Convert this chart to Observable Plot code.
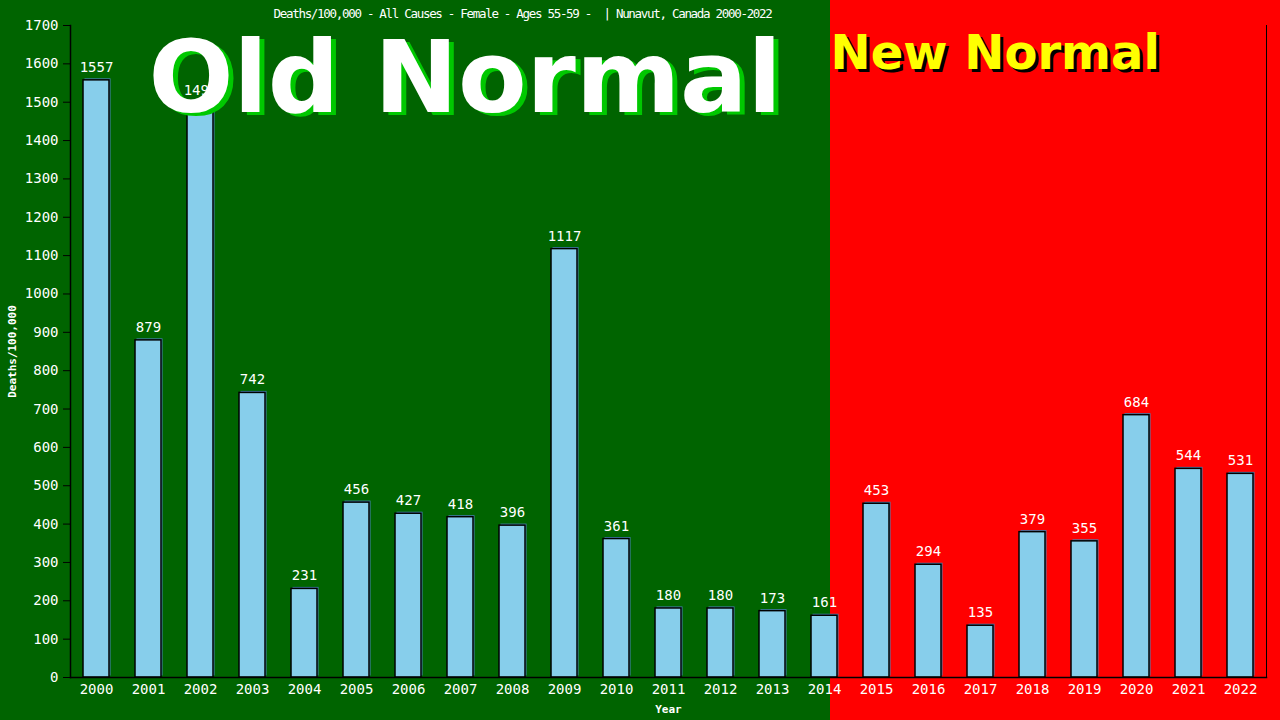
<!DOCTYPE html>
<html><head><meta charset="utf-8">
<script src="https://cdn.jsdelivr.net/npm/d3@7"></script>
<script src="https://cdn.jsdelivr.net/npm/@observablehq/plot@0.6"></script>
<style>
html,body{margin:0;padding:0;width:1280px;height:720px;overflow:hidden;
background:linear-gradient(to right,#006400 0,#006400 830px,#ff0000 830px,#ff0000 100%);}
#chart svg{display:block}
</style></head><body><div id="chart"></div>
<script>
const years = ["2000","2001","2002","2003","2004","2005","2006","2007","2008","2009","2010","2011","2012","2013","2014","2015","2016","2017","2018","2019","2020","2021","2022"];
const values = [1557,879,1497,742,231,456,427,418,396,1117,361,180,180,173,161,453,294,135,379,355,684,544,531];
const yTicks = [0,100,200,300,400,500,600,700,800,900,1000,1100,1200,1300,1400,1500,1600,1700];
const titleText = "Deaths/100,000 - All Causes - Female - Ages 55-59 -  | Nunavut, Canada 2000-2022";
const yLabel = "Deaths/100,000";
const xLabel = "Year";
const oldLabel = "Old Normal";
const newLabel = "New Normal";

const data = years.map((year, i) => ({year, value: values[i]}));
const mono = "'DejaVu Sans Mono', monospace";
const sans = "'DejaVu Sans', sans-serif";

const chart = Plot.plot({
  width: 1280, height: 720,
  marginLeft: 70, marginRight: 14, marginTop: 25, marginBottom: 43,
  style: {background: "transparent", color: "white", fontFamily: mono, fontSize: "14px"},
  x: {domain: years, paddingInner: 0.5, paddingOuter: 0.25, label: null},
  y: {domain: [0, 1700], label: null},
  marks: [
    Plot.barY(data, {x: "year", y: "value", fill: "#4682b4", dx: 1.5, dy: -1.5}),
    Plot.barY(data, {x: "year", y: "value", fill: "#87ceeb", stroke: "black", strokeWidth: 1.5}),
    Plot.axisY({ticks: yTicks, tickFormat: d => String(d), tickSize: 7, tickPadding: 5, stroke: "black", fill: "white", fontSize: 14, label: null}),
    Plot.axisX({tickSize: 0, tickPadding: 7, fill: "white", fontSize: 14, label: null}),
    Plot.frame({anchor: "left", stroke: "black", strokeWidth: 1.5}),
    Plot.frame({anchor: "bottom", stroke: "black", strokeWidth: 1.5}),
    Plot.frame({anchor: "right", stroke: "black"}),
    Plot.text(data, {x: "year", y: "value", text: d => String(d.value), dy: -13, fill: "white", fontSize: 14}),
    Plot.text([oldLabel], {frameAnchor: "top-left", dx: 83, dy: 89, fill: "#00c800", fontSize: 100, fontWeight: "bold", fontFamily: sans, lineAnchor: "bottom", textAnchor: "start"}),
    Plot.text([oldLabel], {frameAnchor: "top-left", dx: 78, dy: 86, fill: "white", fontSize: 100, fontWeight: "bold", fontFamily: sans, lineAnchor: "bottom", textAnchor: "start"}),
    Plot.text([newLabel], {frameAnchor: "top-left", dx: 763, dy: 46, fill: "black", fontSize: 48, fontWeight: "bold", fontFamily: sans, lineAnchor: "bottom", textAnchor: "start"}),
    Plot.text([newLabel], {frameAnchor: "top-left", dx: 760, dy: 43, fill: "#ffff00", fontSize: 48, fontWeight: "bold", fontFamily: sans, lineAnchor: "bottom", textAnchor: "start"}),
    Plot.text([titleText], {frameAnchor: "top-left", dx: 203, dy: -12, fill: "white", fontSize: 12.5, textAnchor: "start", lineAnchor: "middle"}),
    Plot.text([xLabel], {frameAnchor: "bottom", dy: 32, lineAnchor: "middle", fill: "white", fontSize: 11, fontWeight: "bold"}),
    Plot.text([yLabel], {frameAnchor: "left", dx: -58, rotate: -90, textAnchor: "middle", fill: "white", fontSize: 11, fontWeight: "bold"})
  ]
});
// tighten the title's letter spacing and keep its double space
d3.select(chart).selectAll("text").filter(function() { return this.textContent === titleText; })
  .attr("letter-spacing", "-1.3").style("white-space", "pre");
document.getElementById("chart").appendChild(chart);
</script></body></html>
